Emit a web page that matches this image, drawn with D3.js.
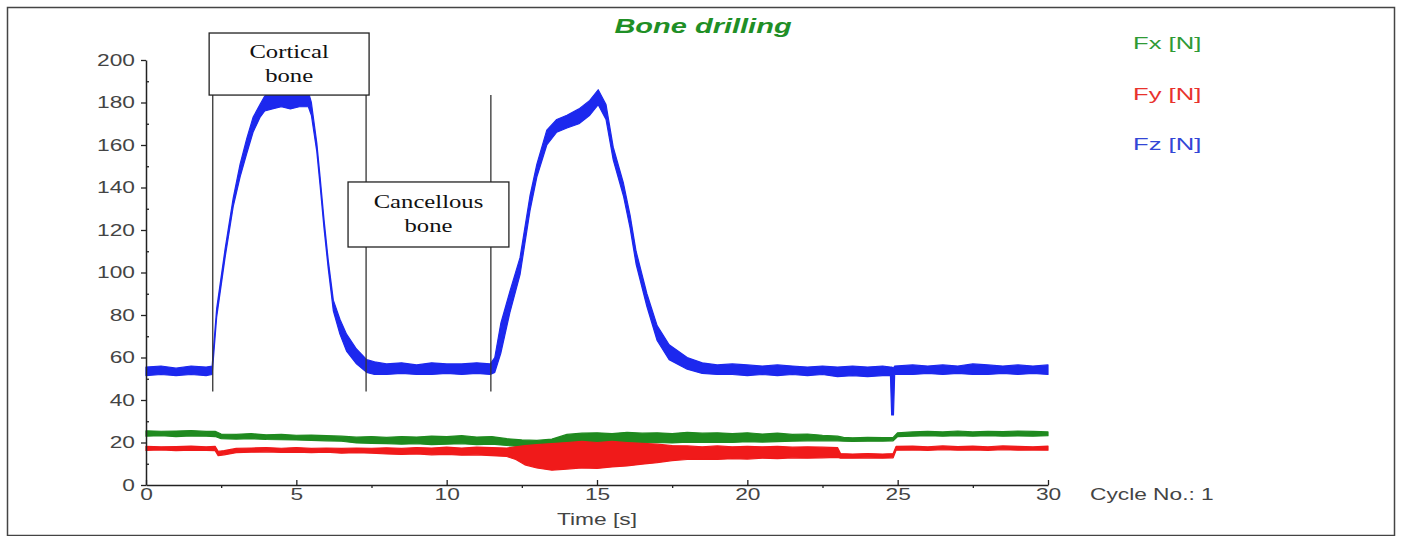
<!DOCTYPE html>
<html>
<head>
<meta charset="utf-8">
<script src="https://cdn.jsdelivr.net/npm/d3@7"></script>
<style>
  body { margin: 0; background: #fff; }
  svg { display: block; }
</style>
</head>
<body>
<div id="chart"></div>
<script>
// Fz (blue) noise band: time [s], lower and upper edge [N]
var fzTime = [0,0.5,1,1.5,2,2.2,2.35,2.63,2.9,3.13,3.35,3.56,3.79,3.95,4.2,4.5,4.8,5.1,5.4,5.5,5.68,5.79,5.92,6.06,6.23,6.45,6.67,7,7.34,7.6,8,8.5,9,9.5,10,10.5,11,11.45,
  11.6,11.8,12.1,12.44,12.77,13,13.33,13.66,14,14.4,14.76,15.04,15.3,15.54,15.88,16.1,16.3,16.66,17,17.4,18,18.5,19,19.5,20,20.5,21,21.5,22,22.5,23,23.5,24,24.5,24.76,24.8,24.86,24.9,
  25.5,26,26.5,27,27.5,28,28.5,29,29.5,30];
var fzLow = [51.5,52,51.5,52,51.5,52,79,107,131,145,156,166,173,176,177,178,177,178,178,174,157,141,121,102,82,71,63,57,53,52,52,52.5,52,52,52.5,52,52.5,52,
  53,62,81,99,129,145,160,166,168,170,174,179,172,153,136,121,104,84,68,59,54.5,52.5,52,52,51.5,52,51.5,52,51.5,52,51,51.5,51,51.5,51.5,33,33,52,
  52,52.5,52,52.5,52,52,52.5,52,52.5,52];
var fzHigh = [55.5,56,55,56,55.5,56,83,111,135,151,163,173,179,183,186,185,184,186,185,180,161,145,125,106,87,78,71,64,59,58,57,57.5,56.5,57.5,57,57,57.5,57,
  60,76,91,107,136,151,167,172,174,177,181,186,179,159,142,127,110,90,75,66,60,57.5,56.5,57,56.5,56,56.5,56,55.5,56,55.5,56,55.5,56,55.5,55.5,55,56,
  56.5,56,56.5,56,57,56.5,56,56.5,56,56.5];

// Fx (green)
var fxTime = [0,0.5,1,1.5,2,2.3,2.5,3,3.5,4,4.5,5,5.5,6,6.5,7,7.5,8,8.5,9,9.5,10,10.5,11,11.5,12,12.5,13,13.5,14,14.5,15,15.5,16,16.5,17,17.5,18,18.5,19,19.5,20,
  20.5,21,21.5,22,22.5,23,23.2,23.5,24,24.5,24.85,25,25.5,26,26.5,27,27.5,28,28.5,29,29.5,30];
var fxLow = [23,23.2,22.8,23.1,23,22.8,21.8,21.6,21.8,21.4,21.3,21.2,21,20.8,20.6,19.8,19.6,19.5,19.2,19.4,19,19.2,19.4,19,19.2,18.6,18,17.8,18.4,19.4,19.6,19.8,19.6,20,19.8,20,19.8,20.2,20,20.2,20,20.4,
  20.2,20.4,20.6,20.8,20.8,20.8,20.6,20.5,20.6,20.6,20.8,22.8,23,23.2,23,23.2,23,23.2,23,23.1,23,23.2];
var fxHigh = [25.5,25.3,25.4,25.6,25.2,25.3,24,23.8,24.2,23.6,23.8,23.4,23.5,23.2,23,22.5,22.8,22.4,22.8,22.6,23,22.8,23.2,22.6,22.8,21.8,21.2,21,21.6,23.8,24.4,24.6,24.2,24.8,24.4,24.6,24.2,24.8,24.4,24.6,24.2,24.6,
  24,24.4,23.8,24,23.4,23,22.4,22.2,22.4,22.3,22.4,24.6,25,25.2,25,25.4,25,25.3,25.1,25.4,25.2,25];

// Fy (red)
var fyTime = [0,0.5,1,1.5,2,2.3,2.4,2.6,3,3.5,4,4.5,5,5.5,6,6.5,7,7.5,8,8.5,9,9.5,10,10.5,11,11.5,12,12.3,12.6,13,13.5,14,14.5,15,15.5,16,16.5,17,17.5,18,18.5,19,19.5,20,
  20.5,21,21.5,22,22.5,23,23.1,23.5,24,24.5,24.85,24.95,25.5,26,26.5,27,27.5,28,28.5,29,29.5,30];
var fyLow = [16.3,16.5,16.2,16.4,16.3,16.2,13.8,14.2,15.2,15.4,15.6,15.3,15.5,15.2,15.4,15,15.2,15,14.6,14.4,14.6,14.2,14.4,14,14.2,13.8,13.4,12,9.5,8,7,7.5,8,7.8,8.5,9,9.8,10.5,11.5,12,12.2,12,12.4,12.2,
  12.6,12.4,12.8,12.6,12.8,13,12.6,12.6,12.8,12.6,12.8,16.4,16.5,16.3,16.6,16.4,16.5,16.3,16.6,16.4,16.5,16.4];
var fyHigh = [18.2,18,18.1,18.3,18,18.2,15.8,16.2,17.2,17.4,17.6,17.3,17.6,17.2,17.4,17.2,17.4,17.3,17.5,17.2,17.6,17.4,17.8,17.4,17.8,17.6,17.4,18,18.5,19,19.5,20,20.5,20,20.5,20,19.6,19.2,18.6,18.4,18,18.4,18,18.2,
  18,18.2,17.8,18,17.8,17.6,14.8,14.6,14.8,14.6,14.8,18.2,18.3,18,18.4,18.1,18.3,18,18.4,18.2,18,18.3];

var yTicks = [0,20,40,60,80,100,120,140,160,180,200];
var yMinor = [10,30,50,70,90,110,130,150,170,190];
var xTicks = [0,5,10,15,20,25,30];
var xMinor = [2.5,7.5,12.5,17.5,22.5,27.5];

var legendLabels = ["Fx [N]", "Fy [N]", "Fz [N]"];
var legendColors = ["#2f9a35", "#e8322c", "#3346d6"];

// phase markers and their boxes (time [s], force [N])
var markerTimes = [2.22, 7.32, 11.47];
var markerLow = 44, markerTop = 183.5;
var boxes = [
  {lines: ["Cortical", "bone"], t0: 2.1, t1: 7.42, v0: 183.5, v1: 212.7},
  {lines: ["Cancellous", "bone"], t0: 6.72, t1: 12.07, v0: 112, v1: 142.6}
];

var width = 1403, height = 536;
var margin = {top: 60, left: 146, right: 355, bottom: 51};

var svg = d3.select("#chart").append("svg")
    .attr("width", width)
    .attr("height", height);

// outer frame
svg.append("rect")
    .attr("x", 7.5).attr("y", 7.5)
    .attr("width", 1387).attr("height", 528)
    .attr("fill", "#fff")
    .attr("stroke", "#444")
    .attr("stroke-width", 1.5);

var x = d3.scaleLinear().domain([0, 30]).range([margin.left, width - margin.right]);
var y = d3.scaleLinear().domain([0, 200]).range([height - margin.bottom, margin.top]);

function stretch(sel, k) {
  sel.each(function() {
    var w = this.getComputedTextLength();
    d3.select(this).attr("textLength", w * k).attr("lengthAdjust", "spacingAndGlyphs");
  });
}

// series bands
function band(times, lo, hi, color) {
  var pts = times.map(function(t, i) { return {t: t, lo: lo[i], hi: hi[i]}; });
  var area = d3.area()
      .x(function(d) { return x(d.t); })
      .y0(function(d) { return y(d.lo); })
      .y1(function(d) { return y(d.hi); });
  svg.append("path")
      .datum(pts)
      .attr("d", area)
      .attr("fill", color)
      .attr("stroke", color)
      .attr("stroke-width", 1.2)
      .attr("stroke-linejoin", "round");
}
band(fxTime, fxLow, fxHigh, "#1f8a1f");
band(fyTime, fyLow, fyHigh, "#f01a1a");
band(fzTime, fzLow, fzHigh, "#1c28ee");

// axes
var gy = svg.append("g").attr("transform", "translate(" + x(0) + ",0)");
gy.call(d3.axisLeft(y).tickValues(yTicks).tickSize(5).tickSizeOuter(0).tickPadding(6));
svg.append("g").attr("transform", "translate(" + x(0) + ",0)")
    .call(d3.axisRight(y).tickValues(yMinor).tickSize(3).tickFormat(""))
    .select(".domain").remove();

var gx = svg.append("g").attr("transform", "translate(0," + y(0) + ")");
gx.call(d3.axisBottom(x).tickValues(xTicks).tickSize(-5).tickSizeOuter(0).tickPadding(4));
svg.append("g").attr("transform", "translate(0," + y(0) + ")")
    .call(d3.axisBottom(x).tickValues(xMinor).tickSize(3).tickFormat(""))
    .select(".domain").remove();

svg.selectAll(".domain").attr("stroke", "#222").attr("stroke-width", 1.5);
svg.selectAll(".tick line").attr("stroke", "#222").attr("stroke-width", 1.3);
svg.selectAll(".tick text")
    .attr("font-family", "Liberation Sans, Arial, sans-serif")
    .attr("font-size", 16)
    .attr("fill", "#444");
stretch(svg.selectAll(".tick text"), 1.42);

// phase markers
svg.selectAll("line.marker")
    .data(markerTimes)
    .enter().append("line")
    .attr("class", "marker")
    .attr("x1", function(d) { return x(d); })
    .attr("x2", function(d) { return x(d); })
    .attr("y1", y(markerLow))
    .attr("y2", y(markerTop))
    .attr("stroke", "#333")
    .attr("stroke-width", 1.3);

var bx = svg.selectAll("g.box")
    .data(boxes)
    .enter().append("g")
    .attr("class", "box");
bx.append("rect")
    .attr("x", function(d) { return x(d.t0); })
    .attr("y", function(d) { return y(d.v1); })
    .attr("width", function(d) { return x(d.t1) - x(d.t0); })
    .attr("height", function(d) { return y(d.v0) - y(d.v1); })
    .attr("fill", "#fff")
    .attr("stroke", "#222")
    .attr("stroke-width", 1.3);
bx.each(function(d) {
  var g = d3.select(this);
  var cx = (x(d.t0) + x(d.t1)) / 2;
  var cy = (y(d.v0) + y(d.v1)) / 2;
  d.lines.forEach(function(s, i) {
    g.append("text")
      .attr("x", cx)
      .attr("y", cy + (i - 0.5) * 24 + 6)
      .attr("text-anchor", "middle")
      .attr("font-family", "Liberation Serif, Times New Roman, serif")
      .attr("font-size", 18)
      .attr("fill", "#111")
      .text(s);
  });
});
stretch(bx.selectAll("text"), 1.37);

// title
var title = svg.append("text")
    .attr("x", 703).attr("y", 33)
    .attr("text-anchor", "middle")
    .attr("font-family", "Liberation Sans, Arial, sans-serif")
    .attr("font-size", 20)
    .attr("font-weight", "bold")
    .attr("font-style", "italic")
    .attr("fill", "#1f8f26")
    .text("Bone drilling");
stretch(title, 1.45);

// legend
var leg = svg.selectAll("text.legend")
    .data(legendLabels)
    .enter().append("text")
    .attr("class", "legend")
    .attr("x", 1133)
    .attr("y", function(d, i) { return 49 + i * 50.5; })
    .attr("font-family", "Liberation Sans, Arial, sans-serif")
    .attr("font-size", 16)
    .attr("fill", function(d, i) { return legendColors[i]; })
    .text(function(d) { return d; });
stretch(leg, 1.6);

// axis title and cycle label
var xt = svg.append("text")
    .attr("x", x(15)).attr("y", 525)
    .attr("text-anchor", "middle")
    .attr("font-family", "Liberation Sans, Arial, sans-serif")
    .attr("font-size", 16)
    .attr("fill", "#444")
    .text("Time [s]");
stretch(xt, 1.42);

var cyc = svg.append("text")
    .attr("x", 1090).attr("y", 500)
    .attr("font-family", "Liberation Sans, Arial, sans-serif")
    .attr("font-size", 16)
    .attr("fill", "#444")
    .text("Cycle No.:  1");
stretch(cyc, 1.42);
</script>
</body>
</html>
